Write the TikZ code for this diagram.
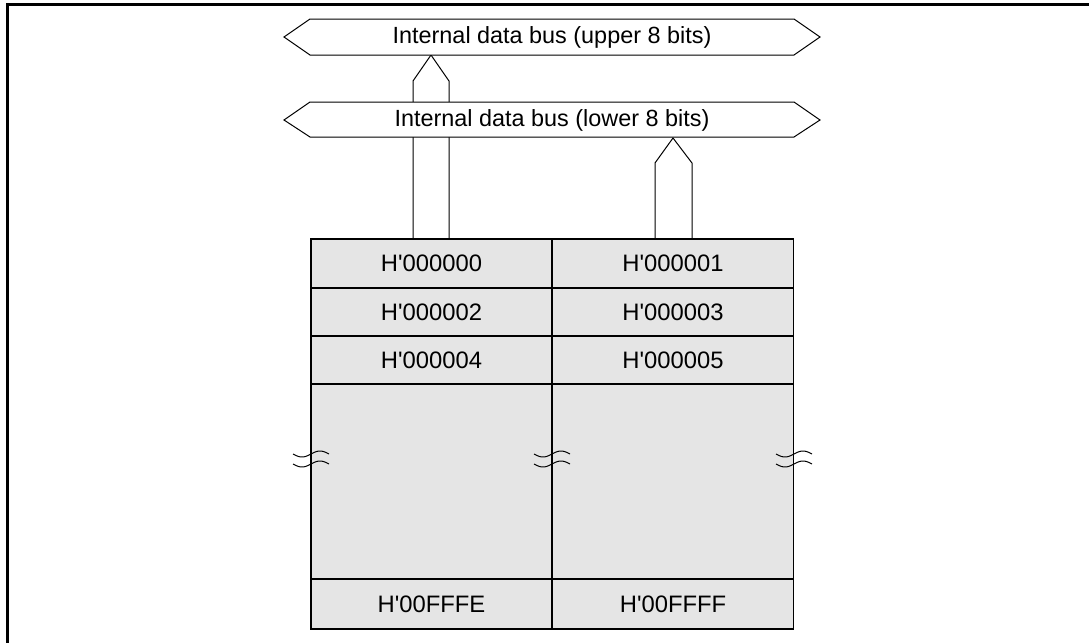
\documentclass[tikz,border=0pt]{standalone}
\usepackage{fontspec}
\setmainfont{Liberation Sans}
\usetikzlibrary{positioning}
\tikzset{x=.5pt,y=-.5pt}
\tikzset{
  cell/.style={draw, fill=black!10, line width=.6pt, inner sep=0pt,
    minimum width=120.5pt, font=\fontsize{11.9}{14}\selectfont},
  bus/.style={draw, fill=white, line width=.5pt},
  stub/.style={draw, line width=.5pt},
  buslabel/.style={inner sep=0pt, font=\fontsize{11.7}{14}\selectfont}
}
\newcommand{\hq}{H\textquotesingle}
% break mark on a vertical edge
\newcommand{\brkmark}[2]{%
  \draw[line width=.5pt] plot[domain=-18:18, samples=31] ({#1+\x}, {#2-5-3*sin(\x*10)});
  \draw[line width=.5pt] plot[domain=-18:18, samples=31] ({#1+\x}, {#2+5-3*sin(\x*10)});
}

\begin{document}
\begin{tikzpicture}
\useasboundingbox (0,0) rectangle (1089,643);
% frame
\draw[line width=1.5pt] (1089,4) -- (7,4) -- (7,643);

% memory cells
\node[cell, minimum height=24.5pt] (c0) at (431.5,263.5) {\hq000000};
\node[cell, minimum height=24.5pt] (c1) at (673,263.5) {\hq000001};
\node[cell, minimum height=24pt] (c2) at (431.5,312) {\hq000002};
\node[cell, minimum height=24pt] (c3) at (673,312) {\hq000003};
\node[cell, minimum height=24pt] (c4) at (431.5,360) {\hq000004};
\node[cell, minimum height=24pt] (c5) at (673,360) {\hq000005};
\node[cell, minimum height=97.5pt] (gapl) at (431.5,481.5) {};
\node[cell, minimum height=97.5pt] (gapr) at (673,481.5) {};
\node[cell, minimum height=25pt] (ce) at (431.5,604) {\hq00FFFE};
\node[cell, minimum height=25pt] (cf) at (673,604) {\hq00FFFF};

% break marks
\brkmark{311}{459}
\brkmark{552}{459}
\brkmark{794}{459}

% stubs to the buses
\coordinate (uapex) at (431,55);
\coordinate (lapex) at (673,138);
\draw[stub] (c0.north -| 413,0) -- (413,81) -- (uapex) -- (449,81) -- (c0.north -| 449,0);
\draw[stub] (c1.north -| 655,0) -- (655,163) -- (lapex) -- (692,163) -- (c1.north -| 692,0);

% buses
\draw[bus] (284,37) -- (310,19) -- (794,19) -- (820,37) -- (794,55) -- (310,55) -- cycle;
\node[buslabel] (ubus) at (552,37) {Internal data bus (upper 8 bits)};
\draw[bus] (284,120) -- (310,102) -- (794,102) -- (820,120) -- (794,137) -- (310,137) -- cycle;
\node[buslabel] (lbus) at (552,120) {Internal data bus (lower 8 bits)};
\end{tikzpicture}
\end{document}
